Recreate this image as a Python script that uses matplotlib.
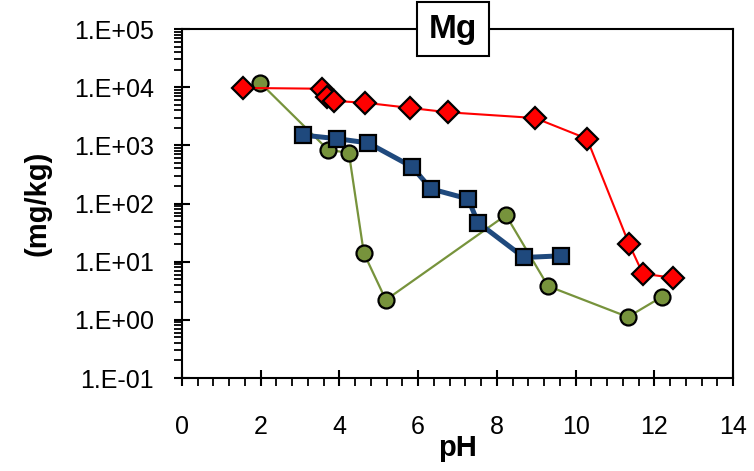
import numpy as np
import matplotlib
matplotlib.use("Agg")
import matplotlib.pyplot as plt  # noqa: E402
from matplotlib.ticker import FixedLocator, FuncFormatter, LogLocator, MultipleLocator  # noqa: E402

plt.rcParams["font.family"] = ["Liberation Sans", "DejaVu Sans"]

# Mg leaching vs pH
red_ph = [1.55, 3.56, 3.68, 3.86, 4.65, 5.79, 6.76, 8.97, 10.29, 11.36, 11.71, 12.47]
red_mg = [9.7e3, 9.4e3, 6.8e3, 5.8e3, 5.4e3, 4.4e3, 3.7e3, 2.95e3, 1.3e3, 20, 6.2, 5.3]

blue_ph = [3.07, 3.94, 4.73, 5.84, 6.33, 7.27, 7.52, 8.69, 9.63]
blue_mg = [1.5e3, 1.3e3, 1.1e3, 430, 178, 120, 47, 11.8, 12.6]

green_ph = [1.98, 3.71, 4.24, 4.62, 5.18, 8.23, 9.30, 11.33, 12.2]
green_mg = [1.2e4, 840, 740, 14, 2.2, 63, 3.8, 1.12, 2.5]

y_decades = [-1, 0, 1, 2, 3, 4, 5]


def main():
    fig = plt.figure(figsize=(7.54, 4.71), dpi=100)
    ax = fig.add_axes([182 / 754, 1 - 378 / 471, (733 - 182) / 754, (378 - 29) / 471])

    ax.plot(green_ph, green_mg, color="#77933C", lw=1.6, marker="o", ms=11.5,
            mfc="#77933C", mec="black", mew=1.6, zorder=3)
    ax.plot(blue_ph, blue_mg, color="#1F497D", lw=3.6, marker="s", ms=11,
            mfc="#1F497D", mec="black", mew=1.6, zorder=4)
    ax.plot(red_ph, red_mg, color="#FF0000", lw=1.5, marker="D", ms=11,
            mfc="#FF0000", mec="black", mew=1.6, zorder=5)

    ax.set_yscale("log")
    ax.set_xlim(0, 14)
    ax.set_ylim(0.1, 1e5)
    ax.xaxis.set_major_locator(MultipleLocator(2))
    ax.xaxis.set_minor_locator(MultipleLocator(0.4))
    ax.yaxis.set_major_locator(FixedLocator([10.0 ** e for e in y_decades]))
    ax.yaxis.set_minor_locator(LogLocator(base=10, subs=np.arange(2, 10)))
    ax.yaxis.set_major_formatter(FuncFormatter(lambda v, p: f"1.E{int(round(np.log10(v))):+03d}"))
    ax.yaxis.set_minor_formatter(FuncFormatter(lambda v, p: ""))

    ax.tick_params(which="major", direction="inout", length=12, width=1.5, labelsize=18,
                   color="black")
    ax.tick_params(axis="y", which="major", pad=14)
    ax.tick_params(axis="x", which="major", pad=21)
    ax.tick_params(which="minor", direction="out", length=6, width=1.3)
    for s in ax.spines.values():
        s.set_linewidth(1.5)

    ax.set_xlabel("pH", fontsize=21, fontweight="bold", labelpad=-4)
    ax.set_ylabel("(mg/kg)", fontsize=21, fontweight="bold")
    ax.yaxis.set_label_coords(-0.236, 0.5)

    ax.text(0.492, 1.0, "Mg", transform=ax.transAxes, ha="center", va="center",
            fontsize=24, fontweight="bold", zorder=10,
            bbox=dict(boxstyle="square,pad=0.35", fc="white", ec="black", lw=1.5))

    fig.savefig("out.png", dpi=100)
    plt.close(fig)


if __name__ == "__main__":
    main()
